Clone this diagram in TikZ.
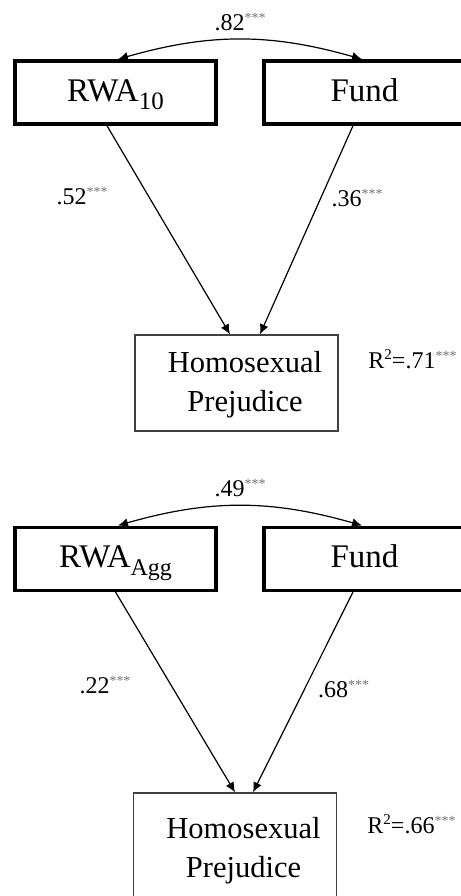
\documentclass[tikz,border=0pt]{standalone}
\usepackage{fontspec}
\setmainfont{Liberation Serif}
\usetikzlibrary{arrows.meta}
\newcommand{\sig}{\raisebox{4pt}{\fontsize{7}{7}\selectfont\color{black!55}***}}
\newcommand{\rsq}{R\raisebox{4.5pt}{\fontsize{7.5}{7.5}\selectfont 2}}
\begin{document}
\begin{tikzpicture}
	[x=0.5pt, y=-0.5pt,
	factor/.style={draw, line width=1.75pt, minimum width=100.5pt,
		minimum height=31.5pt, inner sep=0pt, text height=8.75pt,
		text depth=0pt, font=\fontsize{16.5}{20}\selectfont},
	outcome/.style={draw=black!75, line width=0.7pt, minimum width=101.5pt,
		minimum height=48pt, inner sep=0pt},
	outtext/.style={align=center, anchor=base, font=\fontsize{15.25}{19.5}\selectfont},
	coef/.style={anchor=base, inner sep=0pt, font=\fontsize{12}{14}\selectfont},
	effect/.style={line width=0.6pt, -{Latex[length=5pt,width=4.5pt]}},
	covar/.style={line width=0.6pt,
		{Latex[length=5pt,width=4.5pt]}-{Latex[length=5pt,width=4.5pt]}}
	]
	\useasboundingbox (0,0) rectangle (461,896);
	\clip (0,0) rectangle (461,896);
	
	% RWA 10
	\node[factor] (rwaA) at (115.5,92.5) {RWA\raisebox{-4pt}{\fontsize{12.5}{12}\selectfont 10}};
	\node[factor] (fundA) at (364.5,92.5) {Fund};
	\node[outcome] (prejA) at (236.5,383) {};
	\node[outtext] (prejAtext) at (245,411) {Homosexual\\Prejudice};
	\node[coef] (rsqA) at (412.5,368) {\rsq=.71\sig};
	\draw[covar] ([xshift=1.25pt]rwaA.north) to[bend left=16]
		node[coef, above=4pt] (covA) {.82\sig} ([xshift=-1.25pt]fundA.north);
	\draw[effect] ([xshift=-4.25pt]rwaA.south) -- ([xshift=-3.25pt]prejA.north);
	\draw[effect] ([xshift=-5.75pt]fundA.south) -- ([xshift=11.75pt]prejA.north);
	\node[coef] (betaA1) at (82,204) {.52\sig};
	\node[coef] (betaA2) at (357,206) {.36\sig};
	
	% RWA Agg
	\node[factor] (rwaB) at (115.5,558.75) {RWA\raisebox{-4pt}{\fontsize{12}{12}\selectfont Agg}};
	\node[factor] (fundB) at (364.5,558.75) {Fund};
	\node[outcome, minimum height=53.5pt] (prejB) at (235,846.5) {};
	\node[outtext] (prejBtext) at (243.5,877) {Homosexual\\Prejudice};
	\node[coef] (rsqB) at (411.5,833) {\rsq=.66\sig};
	\draw[covar] ([xshift=1.25pt]rwaB.north) to[bend left=16]
		node[coef, above=4pt] (covB) {.49\sig} ([xshift=-1.25pt]fundB.north);
	\draw[effect] (rwaB.south) -- (prejB.north);
	\draw[effect] ([xshift=-5.75pt]fundB.south) -- ([xshift=9pt]prejB.north);
	\node[coef] (betaB1) at (105,693) {.22\sig};
	\node[coef] (betaB2) at (343.5,697) {.68\sig};
\end{tikzpicture}
\end{document}
